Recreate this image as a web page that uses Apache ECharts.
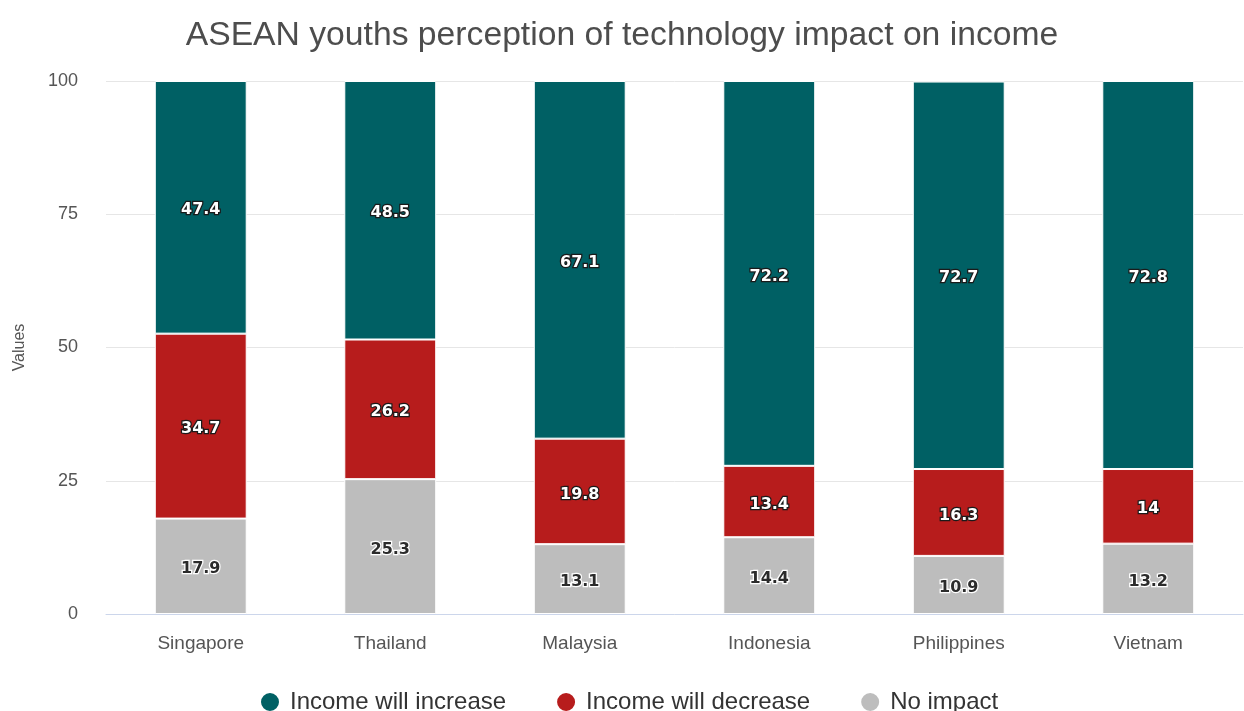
<!DOCTYPE html>
<html>
<head>
<meta charset="utf-8">
<script src="https://cdn.jsdelivr.net/npm/echarts@6/dist/echarts.min.js"></script>
<style>
  html, body { margin: 0; padding: 0; background: #fff; }
  #chart { width: 1244px; height: 711px; }
</style>
</head>
<body>
<div id="chart"></div>
<script>
// Survey results per country (percent of respondents)
const countries = ['Singapore', 'Thailand', 'Malaysia', 'Indonesia', 'Philippines', 'Vietnam'];
const incomeIncrease = [47.4, 48.5, 67.1, 72.2, 72.7, 72.8];
const incomeDecrease = [34.7, 26.2, 19.8, 13.4, 16.3, 14];
const noImpact = [17.9, 25.3, 13.1, 14.4, 10.9, 13.2];
const yTicks = [0, 25, 50, 75, 100];

const FONT = '"Liberation Sans", Arial, sans-serif';
const LABEL_FONT = '"DejaVu Sans", Verdana, sans-serif';

const darkLabel = {
  show: true,
  position: 'inside',
  offset: [0, 3],
  fontFamily: LABEL_FONT,
  fontSize: 16,
  fontWeight: 'bold',
  color: '#ffffff',
  textBorderColor: '#1a1a1a',
  textBorderWidth: 2.5
};
const lightLabel = {
  show: true,
  position: 'inside',
  offset: [0, 3],
  fontFamily: LABEL_FONT,
  fontSize: 16,
  fontWeight: 'bold',
  color: '#2b2b2b',
  textBorderColor: '#ffffff',
  textBorderWidth: 2.5
};

const chart = echarts.init(document.getElementById('chart'), null, { renderer: 'canvas' });

chart.setOption({
  animation: false,
  title: {
    text: 'ASEAN youths perception of technology impact on income',
    left: 'center',
    top: 14,
    textStyle: { fontFamily: FONT, fontSize: 33.7, fontWeight: 'normal', color: '#4d4d4d' }
  },
  legend: {
    top: 685,
    left: 254,
    icon: 'circle',
    itemWidth: 20,
    itemHeight: 20,
    itemGap: 49,
    data: ['Income will increase', 'Income will decrease', 'No impact'],
    textStyle: { fontFamily: FONT, fontSize: 24, color: '#333333', padding: [0, 0, 0, 5] }
  },
  grid: { left: 106, right: 1, top: 81, bottom: 97, containLabel: false, outerBoundsMode: 'none' },
  xAxis: {
    type: 'category',
    data: countries,
    axisLine: { show: true, lineStyle: { color: '#ccd6eb', width: 1 } },
    axisTick: { show: false },
    axisLabel: { fontFamily: FONT, fontSize: 19, color: '#555555', margin: 20 }
  },
  yAxis: {
    type: 'value',
    min: yTicks[0],
    max: yTicks[yTicks.length - 1],
    interval: 25,
    name: 'Values',
    nameLocation: 'middle',
    nameGap: 78,
    nameTextStyle: { fontFamily: FONT, fontSize: 16, color: '#555555' },
    axisLine: { show: false },
    axisTick: { show: false },
    axisLabel: { fontFamily: FONT, fontSize: 18, color: '#555555', margin: 28, padding: [4, 0, 0, 0] },
    splitLine: { lineStyle: { color: '#e6e6e6', width: 1 } }
  },
  series: [
    {
      name: 'No impact',
      type: 'bar',
      stack: 'total',
      barWidth: '48.5%',
      data: noImpact,
      itemStyle: { color: '#bdbdbd', borderColor: '#ffffff', borderWidth: 1 },
      label: lightLabel
    },
    {
      name: 'Income will decrease',
      type: 'bar',
      stack: 'total',
      data: incomeDecrease,
      itemStyle: { color: '#b71c1c', borderColor: '#ffffff', borderWidth: 1 },
      label: darkLabel
    },
    {
      name: 'Income will increase',
      type: 'bar',
      stack: 'total',
      data: incomeIncrease,
      itemStyle: { color: '#006064', borderColor: '#ffffff', borderWidth: 1 },
      label: darkLabel
    }
  ]
});
</script>
</body>
</html>
